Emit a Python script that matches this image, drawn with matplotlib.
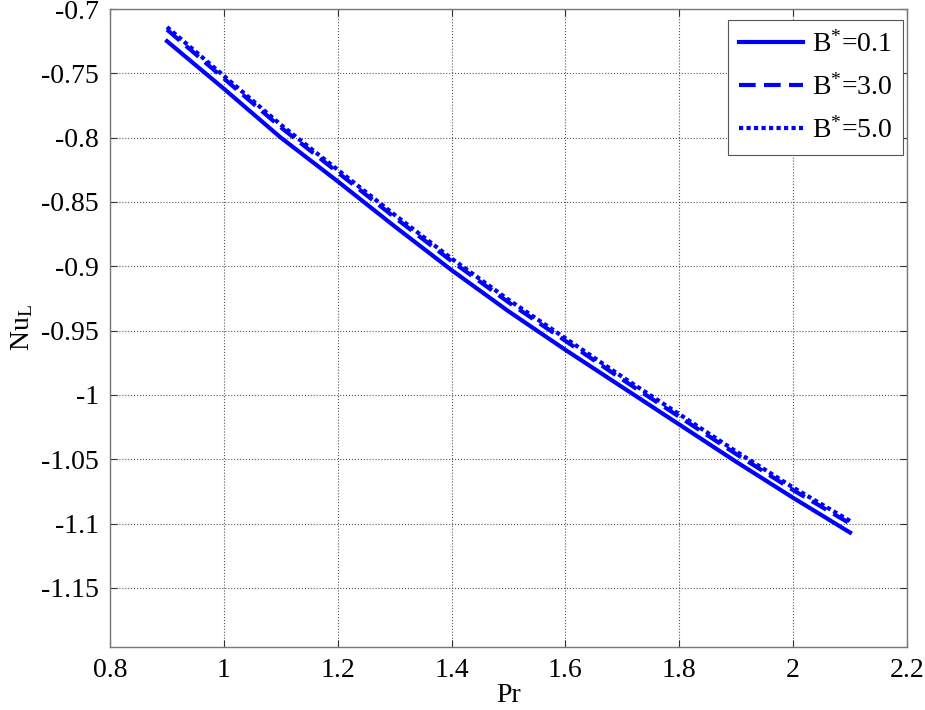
import numpy as np
import matplotlib
matplotlib.use("Agg")
import matplotlib.pyplot as plt
from matplotlib.ticker import FuncFormatter

plt.rcParams['font.family'] = ['Liberation Serif', 'DejaVu Serif']
plt.rcParams['mathtext.fontset'] = 'custom'
plt.rcParams['mathtext.rm'] = 'Liberation Serif'
plt.rcParams['mathtext.it'] = 'Liberation Serif:italic'
plt.rcParams['axes.unicode_minus'] = False

# data
pr = [0.9, 1.0, 1.1, 1.2, 1.3, 1.4, 1.5, 1.6, 1.7, 1.8, 1.9, 2.0, 2.1]
nu_b01 = [-0.725, -0.762, -0.800, -0.834, -0.869, -0.903, -0.935,
          -0.965, -0.994, -1.023, -1.052, -1.080, -1.107]
nu_b30 = [-0.716, -0.754, -0.792, -0.827, -0.862, -0.896, -0.928,
          -0.958, -0.988, -1.017, -1.046, -1.074, -1.100]
nu_b50 = [-0.714, -0.752, -0.790, -0.825, -0.860, -0.894, -0.926,
          -0.956, -0.986, -1.015, -1.044, -1.072, -1.098]
labels = [r'B$^{*}$=0.1', r'B$^{*}$=3.0', r'B$^{*}$=5.0']

xticks = [0.8, 1.0, 1.2, 1.4, 1.6, 1.8, 2.0, 2.2]
yticks = [-1.15, -1.1, -1.05, -1.0, -0.95, -0.9, -0.85, -0.8, -0.75, -0.7]

fig = plt.figure(figsize=(9.25, 7.1), dpi=100)
ax = fig.add_axes([0.119, 0.0887, 0.8615, 0.8986])

ax.plot(pr, nu_b01, color='#0000ff', lw=3, linestyle='-', label=labels[0])
ax.plot(pr, nu_b30, color='#0000ff', lw=3, linestyle=(0, (4, 2)), label=labels[1])
ax.plot(pr, nu_b50, color='#0000ff', lw=3, linestyle=(0, (1, 0.8)), label=labels[2])

ax.set_xlim(0.8, 2.2)
ax.set_ylim(-1.196, -0.7)
ax.set_xticks(xticks)
ax.set_yticks(yticks)
fmt = FuncFormatter(lambda v, p: '%g' % round(v, 3))
ax.xaxis.set_major_formatter(fmt)
ax.yaxis.set_major_formatter(fmt)
ax.tick_params(direction='in', length=5, width=0.8, top=True, right=True,
               labelsize=20, color='#333333', pad=8)
ax.grid(True, linestyle=':', color='#555555', linewidth=0.8)
for s in ax.spines.values():
    s.set_color('#777777')
    s.set_linewidth(1)

ax.set_xlabel('Pr', fontsize=20, labelpad=0)
ax.set_ylabel(r'Nu$_\mathrm{L}$', fontsize=20, labelpad=4)

leg = ax.legend(loc='upper right', bbox_to_anchor=(0.995, 0.983), fontsize=20,
                fancybox=False, framealpha=1, edgecolor='#555555',
                handlelength=2.3, borderpad=0.4, labelspacing=0.6,
                handletextpad=0.3, borderaxespad=0.0)
leg.get_frame().set_linewidth(0.8)

fig.savefig('out.png', dpi=100)
